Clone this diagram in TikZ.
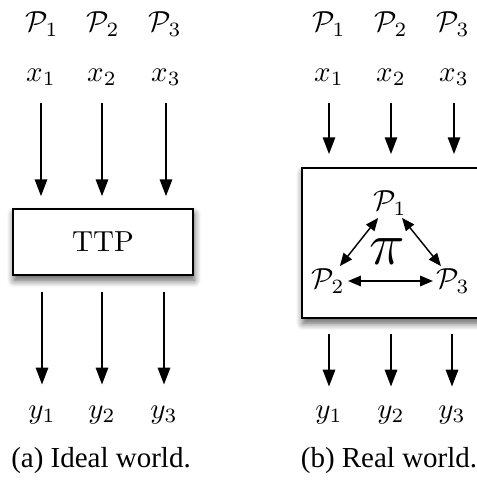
\documentclass[tikz,border=0pt]{standalone}
\usepackage{amsmath}
\usepackage{amssymb}
\usepackage{fontspec}
\usepackage{tikz}
\usetikzlibrary{
    arrows.meta,
    positioning,
    calc,
    shadows.blur
}
\newfontfamily\capfont{Liberation Serif}
\tikzset{
  lbl/.style   = {inner sep=0pt},
  box/.style   = {draw, fill=white, line width=0.6pt,
                  blur shadow={shadow xshift=0.4pt, shadow yshift=-1.8pt,
                               shadow blur radius=2.4pt, shadow blur steps=8,
                               shadow opacity=65}},
  arr/.style   = {-{Triangle[length=5.8pt, width=4.3pt]}, line width=0.5pt},
  darr/.style  = {{Triangle[length=4.4pt, width=3.6pt]}-{Triangle[length=4.4pt, width=3.6pt]},
                  line width=0.5pt},
  captxt/.style = {font=\capfont, inner sep=0pt}
}

\begin{document}
\begin{tikzpicture}[x=0.345pt, y=-0.345pt]
\useasboundingbox (0,0) rectangle (477,493);

% (a) ideal world
\node[lbl] (pa1) at (42,24) {$\mathcal{P}_1$};
\node[lbl] (pa2) at (103,24) {$\mathcal{P}_2$};
\node[lbl] (pa3) at (165,24) {$\mathcal{P}_3$};
\node[lbl] (xa1) at (41,77) {$x_1$};
\node[lbl] (xa2) at (102,77) {$x_2$};
\node[lbl] (xa3) at (166,77) {$x_3$};
\node[box, minimum width=62.1pt, minimum height=22.8pt] (ttp) at (103,242) {TTP};
\node[lbl] (ya1) at (42,415) {$y_1$};
\node[lbl] (ya2) at (102,415) {$y_2$};
\node[lbl] (ya3) at (164,415) {$y_3$};
\node[captxt] (capa) at (101,461) {(a) Ideal world.};

\foreach \i in {1,2,3} {
  \draw[arr, shorten <=6pt, shorten >=4.1pt] (xa\i) -- (xa\i |- ttp.north);
  \draw[arr, shorten <=5.5pt, shorten >=7.2pt] (ya\i |- ttp.south) -- (ya\i);
}

% (b) real world
\node[lbl] (pb1) at (329,24) {$\mathcal{P}_1$};
\node[lbl] (pb2) at (391,24) {$\mathcal{P}_2$};
\node[lbl] (pb3) at (453,24) {$\mathcal{P}_3$};
\node[lbl] (xb1) at (329,77) {$x_1$};
\node[lbl] (xb2) at (391,77) {$x_2$};
\node[lbl] (xb3) at (454,77) {$x_3$};
\node[box, minimum width=61.1pt, minimum height=51.75pt] (prot) at (390.5,243) {};
\node[lbl] (q1) at (390,203) {$\mathcal{P}_1$};
\node[lbl] (q2) at (328,281) {$\mathcal{P}_2$};
\node[lbl] (q3) at (453,281) {$\mathcal{P}_3$};
\node[lbl, font=\huge] (pi) at (387,252) {$\pi$};
\node[lbl] (yb1) at (329,415) {$y_1$};
\node[lbl] (yb2) at (391,415) {$y_2$};
\node[lbl] (yb3) at (452,415) {$y_3$};
\node[captxt] (capb) at (389,461) {(b) Real world.};

\draw[darr, shorten <=1pt, shorten >=1pt] (q1) -- (q2);
\draw[darr, shorten <=1pt, shorten >=1pt] (q1) -- (q3);
\draw[darr, shorten <=1pt, shorten >=1pt] (q2) -- (q3);

\foreach \i in {1,2,3} {
  \draw[arr, shorten <=6pt, shorten >=4.5pt] (xb\i) -- (xb\i |- prot.north);
  \draw[arr, shorten <=5.2pt, shorten >=6.5pt] (yb\i |- prot.south) -- (yb\i);
}

\end{tikzpicture}
\end{document}
